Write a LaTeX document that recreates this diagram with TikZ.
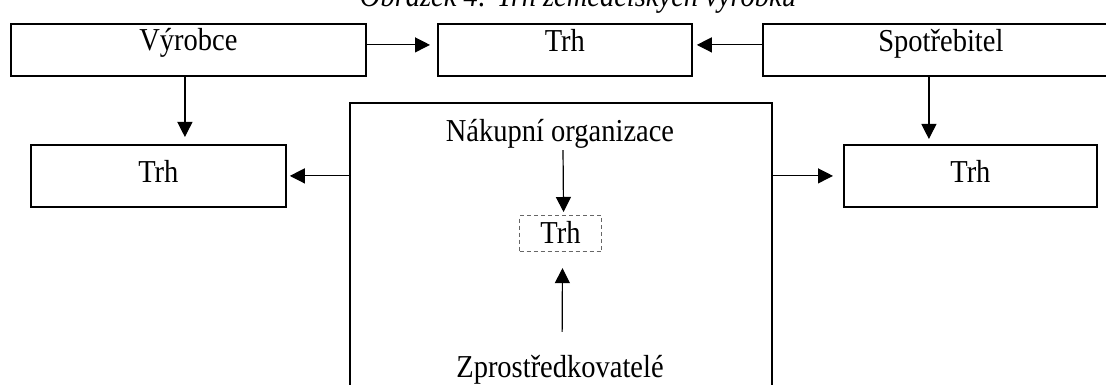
\documentclass[tikz,border=0pt]{standalone}
\usepackage{fontspec}
\usepackage{graphicx}
\setmainfont{Liberation Serif}
\usetikzlibrary{arrows.meta,calc}
\newcommand{\vstr}[1]{\scalebox{1}[1.12]{#1}}
\begin{document}
\begin{tikzpicture}[x=1pt,y=-1pt,
  every node/.style={font=\fontsize{28.5}{34}\selectfont},
  box/.style={draw, line width=1.8pt, inner sep=0pt, anchor=north west},
  dbox/.style={draw=black!60, line width=1.1pt, dash pattern=on 4pt off 3pt, inner sep=0pt, anchor=north west},
  txt/.style={inner sep=0pt, anchor=base},
  arr/.style={line width=1.2pt, -{Triangle[length=15pt,width=15pt]}},
]
\useasboundingbox (0,0) rectangle (1106,385);
\clip (0,0) rectangle (1106,385);

\node[txt, font=\fontsize{28.5}{34}\selectfont\itshape] (cap) at (578,7) {\vstr{Obrázek 4: Trh zemědělských výrobků}};

\node[box, minimum width=355pt, text height=27pt, text depth=25pt] (vyrobce) at (10,23) {\vstr{Výrobce}};
\node[box, minimum width=254pt, text height=28pt, text depth=24pt] (trhT) at (437,23) {\vstr{Trh}};
\node[box, minimum width=356pt, text height=28pt, text depth=24pt] (spotr) at (762,23) {\vstr{Spotřebitel}};
\node[box, minimum width=255pt, text height=38pt, text depth=24pt] (trhL) at (30,144) {\vstr{Trh}};
\node[box, minimum width=253pt, text height=38pt, text depth=24pt] (trhR) at (843,144) {\vstr{Trh}};
\node[box, minimum width=422pt, minimum height=330pt] (mid) at (349,102) {};

\node[txt, text depth=6pt] (nakup) at (560,142) {\vstr{Nákupní organizace}};
\node[dbox, minimum width=82pt, text height=28pt, text depth=8pt] (trhD) at (519,215) {\vstr{Trh}};
\node[txt, text height=20pt] (zprost) at (560,377) {\vstr{Zprostředkovatelé}};

\draw[arr, shorten >=7pt] ([yshift=5pt]vyrobce.east) -- ([yshift=5pt]trhT.west);
\draw[arr, shorten >=4pt] ([yshift=5pt]spotr.west) -- ([yshift=5pt]trhT.east);
\draw[arr, shorten >=7pt] ([xshift=-3.5pt]vyrobce.south) -- ([xshift=-3.5pt]vyrobce.south |- trhL.north);
\draw[arr, shorten >=5pt] ([xshift=-12pt]spotr.south) -- ([xshift=-12pt]spotr.south |- trhR.north);
\draw[arr, shorten >=3pt] (mid.west |- trhL.east) -- (trhL.east);
\draw[arr, shorten >=10pt] (mid.east |- trhR.west) -- (trhR.west);
\draw[arr, shorten <=2pt, shorten >=3pt] ([xshift=3pt]nakup.south) -- ([xshift=3pt]trhD.north);
\draw[arr, shorten <=25pt, shorten >=16pt] ([xshift=2pt]zprost.north) -- ([xshift=2pt]trhD.south);
\end{tikzpicture}
\end{document}
